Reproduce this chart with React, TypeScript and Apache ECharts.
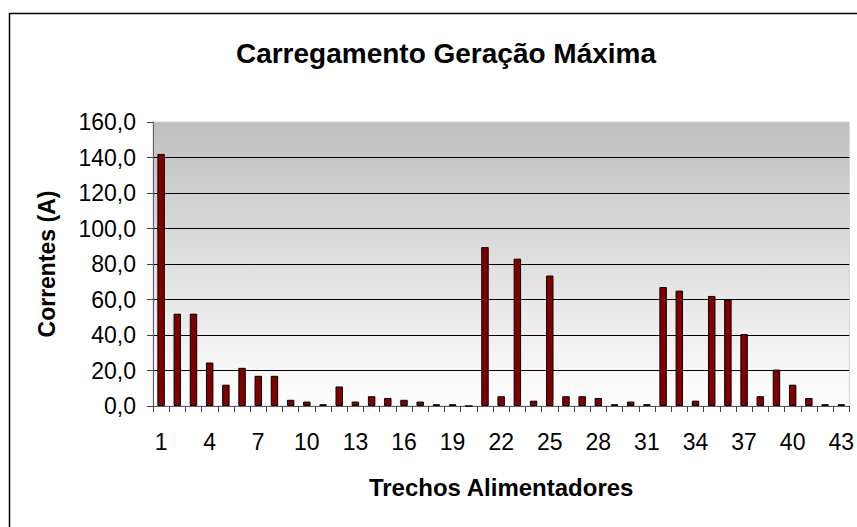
import React, { useEffect, useRef } from "react";
import * as echarts from "echarts";

const titleText = "Carregamento Geração Máxima";
const xAxisTitle = "Trechos Alimentadores";
const yAxisTitle = "Correntes (A)";

const categories = [
  "1", "2", "3", "4", "5", "6", "7", "8", "9", "10",
  "11", "12", "13", "14", "15", "16", "17", "18", "19", "20",
  "21", "22", "23", "24", "25", "26", "27", "28", "29", "30",
  "31", "32", "33", "34", "35", "36", "37", "38", "39", "40",
  "41", "42", "43",
];

const correntes = [
  142, 52, 52, 24.5, 12, 21.5, 17, 17, 3.5, 2.5,
  1, 11, 2.5, 5.5, 4.5, 3.5, 2.5, 1, 1, 0,
  89.5, 5.5, 83, 3, 73.5, 5.5, 5.5, 4.5, 1, 2.5,
  1, 67, 65, 3, 62, 60, 40.5, 5.5, 20.5, 12,
  4.5, 1, 1,
];

const yMin = 0;
const yMax = 160;
const yStep = 20;

const FONT = "'Liberation Sans', Arial, Helvetica, sans-serif";

export default function App() {
  const ref = useRef<HTMLDivElement>(null);

  useEffect(() => {
    if (!ref.current) return;
    const chart = echarts.init(ref.current, null, { renderer: "svg" });
    chart.setOption({
      animation: false,
      backgroundColor: "#ffffff",
      title: {
        text: titleText,
        left: 441,
        top: 34,
        textAlign: "center",
        textStyle: {
          fontFamily: FONT,
          fontSize: 28,
          fontWeight: "bold",
          color: "#000",
        },
      },
      graphic: [
        {
          type: "rect",
          left: 7,
          top: 11,
          z: -10,
          shape: { width: 900, height: 600 },
          style: { fill: "none", stroke: "#000", lineWidth: 1.5 },
        },
      ],
      grid: {
        left: 153,
        right: 4,
        top: 122,
        bottom: 121,
        show: true,
        borderWidth: 1,
        borderColor: "#d4d4d4",
        backgroundColor: new echarts.graphic.LinearGradient(0, 0, 0, 1, [
          { offset: 0, color: "#bfbfbf" },
          { offset: 1, color: "#ffffff" },
        ]),
      },
      xAxis: {
        type: "category",
        data: categories,
        boundaryGap: true,
        name: xAxisTitle,
        nameLocation: "middle",
        nameGap: 69,
        nameTextStyle: {
          fontFamily: FONT,
          fontSize: 24,
          fontWeight: "bold",
          color: "#000",
        },
        axisLine: { show: true, lineStyle: { color: "#606060", width: 1 } },
        axisTick: {
          show: true,
          interval: 0,
          length: 6,
          alignWithLabel: false,
          lineStyle: { color: "#404040" },
        },
        axisLabel: {
          interval: 2,
          margin: 24,
          fontFamily: FONT,
          fontSize: 23,
          color: "#000",
        },
        splitLine: { show: false },
      },
      yAxis: {
        type: "value",
        min: yMin,
        max: yMax,
        interval: yStep,
        name: yAxisTitle,
        nameLocation: "middle",
        nameGap: 95,
        nameTextStyle: {
          fontFamily: FONT,
          fontSize: 23,
          fontWeight: "bold",
          color: "#000",
        },
        axisLine: { show: true, lineStyle: { color: "#606060", width: 1 } },
        axisTick: { show: true, length: 6, lineStyle: { color: "#404040" } },
        axisLabel: {
          margin: 17,
          fontFamily: FONT,
          fontSize: 23,
          color: "#000",
          formatter: (v: number) => v.toFixed(1).replace(".", ","),
        },
        splitLine: {
          show: true,
          showMinLine: false,
          showMaxLine: false,
          lineStyle: { color: "#000", width: 1 },
        },
      },
      series: [
        {
          type: "bar",
          data: correntes,
          barWidth: "46%",
          itemStyle: {
            color: "#800000",
            borderColor: "#000",
            borderWidth: 1,
          },
        },
      ],
    });
    return () => chart.dispose();
  }, []);

  return (
    <div
      ref={ref}
      style={{ position: "fixed", left: 0, top: 0, width: 857, height: 527 }}
    />
  );
}
